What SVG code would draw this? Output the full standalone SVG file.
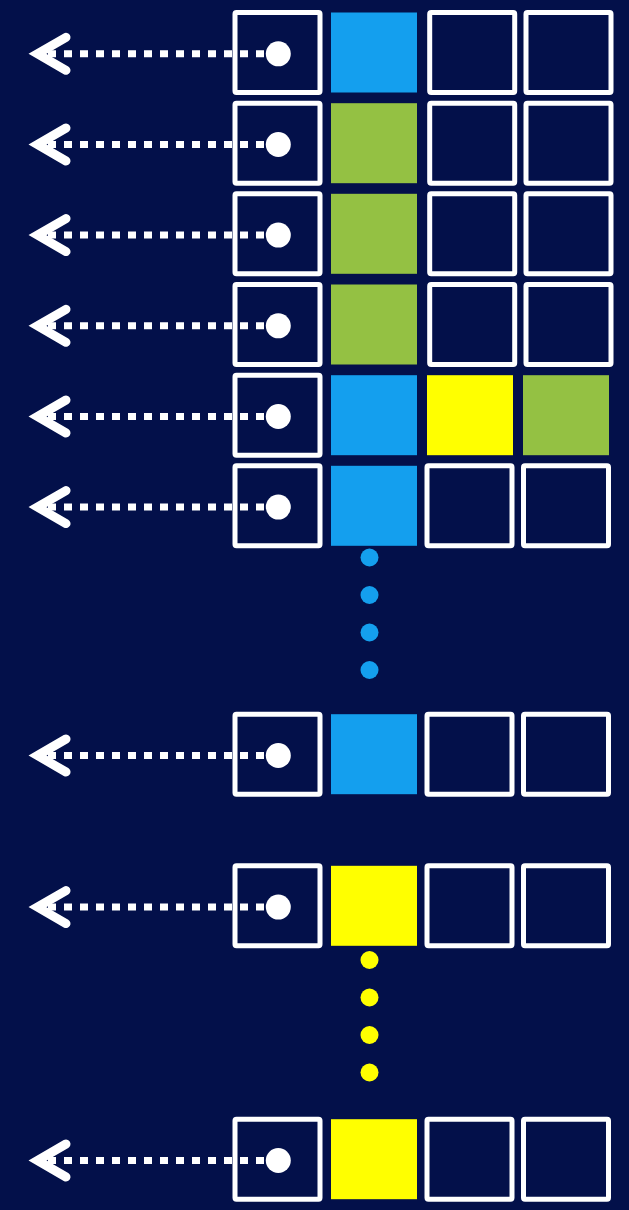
<svg xmlns="http://www.w3.org/2000/svg" width="629" height="1210" viewBox="0 0 629 1210">
  <defs>
    <style>
      .bg { fill: #03104a; }
      .cell { fill: none; stroke: #ffffff; stroke-width: 5; stroke-linejoin: round; }
      .blue { fill: #149fee; }
      .green { fill: #94c143; }
      .yellow { fill: #ffff00; }
      .knob { fill: #ffffff; }
      .link { fill: none; stroke: #ffffff; stroke-width: 7; stroke-dasharray: 8 8; marker-end: url(#chev); }
    </style>
    <marker id="chev" markerUnits="userSpaceOnUse" viewBox="-30 -25 50 50" refX="0" refY="0" markerWidth="50" markerHeight="50" orient="auto" overflow="visible">
      <path d="M-18,-16.5 L10.5,0 L-18,16.5" fill="none" stroke="#ffffff" stroke-width="9" stroke-linecap="round" stroke-linejoin="miter" stroke-miterlimit="10"/>
    </marker>
  </defs>
  <rect class="bg" x="0" y="0" width="629" height="1210"/>

  <g id="row1">
    <rect class="cell" x="235" y="12.5" width="85" height="80" rx="1.5"/>
    <rect class="blue" x="331" y="12.5" width="86" height="80"/>
    <rect class="cell" x="429.7" y="12.5" width="85" height="80" rx="1.5"/>
    <rect class="cell" x="526" y="12.5" width="85" height="80" rx="1.5"/>
  </g>
  <g id="row2">
    <rect class="cell" x="235" y="103.2" width="85" height="80" rx="1.5"/>
    <rect class="green" x="331" y="103.2" width="86" height="80"/>
    <rect class="cell" x="429.7" y="103.2" width="85" height="80" rx="1.5"/>
    <rect class="cell" x="526" y="103.2" width="85" height="80" rx="1.5"/>
  </g>
  <g id="row3">
    <rect class="cell" x="235" y="193.8" width="85" height="80" rx="1.5"/>
    <rect class="green" x="331" y="193.8" width="86" height="80"/>
    <rect class="cell" x="429.7" y="193.8" width="85" height="80" rx="1.5"/>
    <rect class="cell" x="526" y="193.8" width="85" height="80" rx="1.5"/>
  </g>
  <g id="row4">
    <rect class="cell" x="235" y="284.5" width="85" height="80" rx="1.5"/>
    <rect class="green" x="331" y="284.5" width="86" height="80"/>
    <rect class="cell" x="429.7" y="284.5" width="85" height="80" rx="1.5"/>
    <rect class="cell" x="526" y="284.5" width="85" height="80" rx="1.5"/>
  </g>
  <g id="row5">
    <rect class="cell" x="235" y="375.2" width="85" height="80" rx="1.5"/>
    <rect class="blue" x="331" y="375.2" width="86" height="80"/>
    <rect class="yellow" x="427" y="375.2" width="86" height="80"/>
    <rect class="green" x="523" y="375.2" width="86" height="80"/>
  </g>
  <g id="row6">
    <rect class="cell" x="235" y="465.8" width="85" height="80" rx="1.5"/>
    <rect class="blue" x="331" y="465.8" width="86" height="80"/>
    <rect class="cell" x="427" y="465.8" width="85" height="80" rx="1.5"/>
    <rect class="cell" x="523.5" y="465.8" width="85" height="80" rx="1.5"/>
  </g>
  <g id="blue-ellipsis">
    <circle class="blue" cx="369.5" cy="557.5" r="9"/>
    <circle class="blue" cx="369.5" cy="595" r="9"/>
    <circle class="blue" cx="369.5" cy="632.5" r="9"/>
    <circle class="blue" cx="369.5" cy="670" r="9"/>
  </g>
  <g id="row7">
    <rect class="cell" x="235" y="714.2" width="85" height="80" rx="1.5"/>
    <rect class="blue" x="331" y="714.2" width="86" height="80"/>
    <rect class="cell" x="427" y="714.2" width="85" height="80" rx="1.5"/>
    <rect class="cell" x="523.5" y="714.2" width="85" height="80" rx="1.5"/>
  </g>
  <g id="row8">
    <rect class="cell" x="235" y="865.8" width="85" height="80" rx="1.5"/>
    <rect class="yellow" x="331" y="865.8" width="86" height="80"/>
    <rect class="cell" x="427" y="865.8" width="85" height="80" rx="1.5"/>
    <rect class="cell" x="523.5" y="865.8" width="85" height="80" rx="1.5"/>
  </g>
  <g id="yellow-ellipsis">
    <circle class="yellow" cx="369.5" cy="960" r="9"/>
    <circle class="yellow" cx="369.5" cy="997.5" r="9"/>
    <circle class="yellow" cx="369.5" cy="1035" r="9"/>
    <circle class="yellow" cx="369.5" cy="1072.5" r="9"/>
  </g>
  <g id="row9">
    <rect class="cell" x="235" y="1119.2" width="85" height="80" rx="1.5"/>
    <rect class="yellow" x="331" y="1119.2" width="86" height="80"/>
    <rect class="cell" x="427" y="1119.2" width="85" height="80" rx="1.5"/>
    <rect class="cell" x="523.5" y="1119.2" width="85" height="80" rx="1.5"/>
  </g>

  <g id="connectors">
    <path class="link" d="M264,53.8 H48"/>
    <path class="link" d="M264,144.5 H48"/>
    <path class="link" d="M264,235.1 H48"/>
    <path class="link" d="M264,325.8 H48"/>
    <path class="link" d="M264,416.5 H48"/>
    <path class="link" d="M264,507.1 H48"/>
    <path class="link" d="M264,755.5 H48"/>
    <path class="link" d="M264,907.1 H48"/>
    <path class="link" d="M264,1160.5 H48"/>
  </g>

  <g id="knobs">
    <circle class="knob" cx="278.3" cy="53.8" r="12.5"/>
    <circle class="knob" cx="278.3" cy="144.5" r="12.5"/>
    <circle class="knob" cx="278.3" cy="235.1" r="12.5"/>
    <circle class="knob" cx="278.3" cy="325.8" r="12.5"/>
    <circle class="knob" cx="278.3" cy="416.5" r="12.5"/>
    <circle class="knob" cx="278.3" cy="507.1" r="12.5"/>
    <circle class="knob" cx="278.3" cy="755.5" r="12.5"/>
    <circle class="knob" cx="278.3" cy="907.1" r="12.5"/>
    <circle class="knob" cx="278.3" cy="1160.5" r="12.5"/>
  </g>
</svg>
